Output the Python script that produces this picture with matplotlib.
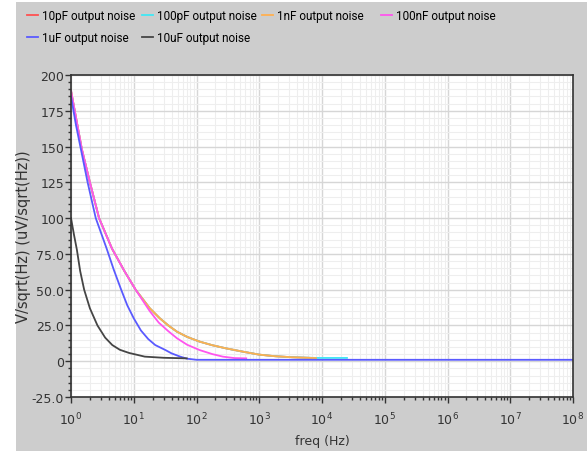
import matplotlib
matplotlib.use("Agg")
import matplotlib.pyplot as plt
from matplotlib.patches import Rectangle
from matplotlib.ticker import MultipleLocator, FixedLocator, NullFormatter
import numpy as np

# values (freq in Hz, noise in uV/sqrt(Hz))
f_red = [1, 1.49, 2.0, 2.8, 4.5, 7.1, 10.7, 18, 26, 35.5, 49, 71, 112, 178, 295, 560,
         1000, 1780, 3300, 8000]
v_red = [189, 148, 125, 100, 78.7, 63, 50, 37, 30, 25, 20.6, 17, 13.7, 11.2, 9, 6.6,
         4.6, 3.5, 2.8, 2.2]

f_cyan = [1, 1.49, 2.0, 2.8, 4.5, 7.1, 10.7, 18, 26, 35.5, 49, 71, 112, 178, 295, 560,
          1000, 1780, 3300, 8000, 25000]
v_cyan = [189, 148, 125, 100, 78.7, 63, 50, 37, 30, 25, 20.6, 17, 13.7, 11.2, 9, 6.6,
          4.6, 3.5, 2.8, 2.3, 2.3]

f_orange = [1, 1.49, 2.0, 2.8, 4.5, 7.1, 10.7, 18, 26, 35.5, 49, 71, 112, 178, 295, 560,
            1000, 1780, 3300, 8000]
v_orange = [189, 148, 125, 100, 78.7, 63, 50, 37, 30, 25, 20.6, 17, 13.7, 11.2, 9, 6.6,
            4.6, 3.5, 2.8, 2.2]

f_magenta = [1, 1.49, 2.0, 2.8, 4.5, 7.1, 10.7, 18, 25, 35.5, 49, 71, 112, 178, 263, 400, 620]
v_magenta = [189, 148, 125, 100, 78.7, 63, 50, 35, 27, 21, 16, 11.5, 7.8, 5, 3.2, 2.2, 2.0]

f_blue = [1, 1.2, 1.44, 1.84, 2.48, 3.7, 4.8, 6.3, 7.9, 10, 13, 17, 22, 32, 40, 55, 70, 100, 1e8]
v_blue = [185, 165, 148, 125, 100, 78.7, 64, 50, 39, 30, 21.5, 15.5, 11.3, 7.8, 5.5, 3.2, 1.8,
          1.0, 1.0]

f_black = [1, 1.12, 1.24, 1.4, 1.62, 2.0, 2.64, 3.5, 4.55, 6, 8.4, 15, 30, 70]
v_black = [100, 88, 78, 63, 50, 37, 25, 16.5, 11.3, 8, 5.8, 3.2, 2.4, 2.0]

labels = ["10pF output noise", "100pF output noise", "1nF output noise",
          "100nF output noise", "1uF output noise", "10uF output noise"]
colors = ["#ff5050", "#40e8f5", "#ffb050", "#ff55ee", "#5a5aff", "#454545"]

x_decades = list(range(0, 9))
y_ticks = [-25, 0, 25, 50, 75, 100, 125, 150, 175, 200]
y_ticklabels = ["-25.0", "0", "25.0", "50.0", "75.0", "100", "125", "150", "175", "200"]

fig = plt.figure(figsize=(5.87, 4.52), dpi=100)
fig.patch.set_facecolor("white")
fig.patches.append(Rectangle((16 / 587, 0), 1, 1 - 3 / 452, transform=fig.transFigure,
                             facecolor="#cdcdcd", edgecolor="none", zorder=-10))

ax = fig.add_axes([71 / 587, 1 - 398 / 452, (573 - 71) / 587, (398 - 76) / 452])
ax.set_facecolor("white")

series = [(f_red, v_red), (f_cyan, v_cyan), (f_orange, v_orange),
          (f_magenta, v_magenta), (f_blue, v_blue), (f_black, v_black)]
handles = []
for (f, v), lab, c in zip(series, labels, colors):
    h, = ax.plot(f, v, color=c, lw=1.3, label=lab, solid_joinstyle="round")
    handles.append(h)

ax.set_xscale("log")
ax.set_xlim(1, 1e8)
ax.set_ylim(-25, 200)
ax.set_xticks([10.0 ** k for k in x_decades])
ax.set_xticklabels([r"$10^{%d}$" % k for k in x_decades])
minor_x = [m * 10.0 ** k for k in x_decades[:-1] for m in range(2, 10)]
ax.xaxis.set_minor_locator(FixedLocator(minor_x))
ax.xaxis.set_minor_formatter(NullFormatter())
ax.set_yticks(y_ticks)
ax.set_yticklabels(y_ticklabels)
ax.yaxis.set_minor_locator(MultipleLocator(5))

ax.grid(which="major", color="#d6d6d6", lw=1.0)
ax.grid(which="minor", color="#eeeeee", lw=0.8)
ax.set_axisbelow(True)

ax.tick_params(which="major", direction="out", length=4, width=1, colors="#333333",
               labelsize=9, pad=1)
ax.tick_params(axis="x", which="major", pad=6)
ax.tick_params(which="minor", direction="out", length=2, width=1, colors="#333333")
for s in ax.spines.values():
    s.set_color("#333333")
    s.set_linewidth(1.2)

ax.set_xlabel("freq (Hz)", fontsize=9, color="#333333", labelpad=5)
ax.set_ylabel("V/sqrt(Hz) (uV/sqrt(Hz))", fontsize=10.5, color="#333333")
ax.yaxis.set_label_coords(-0.08, 0.5)

# legend laid out row by row with fixed column pitch, like the reference
cols = [[0, 4], [1, 5], [2], [3]]
col_x = [27, 142, 262, 381]
for idx, x in zip(cols, col_x):
    fig.legend([handles[i] for i in idx], [labels[i] for i in idx],
               loc="upper left", bbox_to_anchor=(x / 587, 1 - 10 / 452),
               frameon=False, handlelength=0.9, handletextpad=0.35,
               labelspacing=0.8, borderpad=0, borderaxespad=0,
               prop={"family": "Roboto", "size": 8.5})

fig.savefig("out.png", dpi=100, facecolor=fig.get_facecolor())
